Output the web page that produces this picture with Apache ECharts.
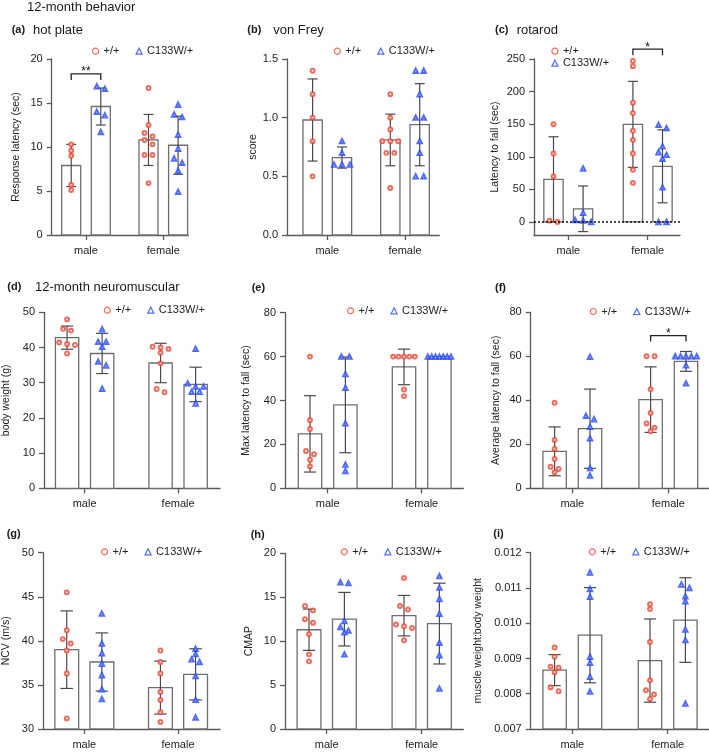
<!DOCTYPE html>
<html><head><meta charset="utf-8">
<script src="https://cdn.jsdelivr.net/npm/echarts@6/dist/echarts.min.js"></script>
<style>html,body{margin:0;padding:0;background:#fff}#c{width:709px;height:755px}</style>
</head><body><div id="c"></div>
<script>
// ---------------- DATA ----------------
const categories = ['male', 'female'];
const groupNames = ['+/+', 'C133W/+'];
// order of groups in every panel: male +/+, male C133W/+, female +/+, female C133W/+

// (a) hot plate
const hotPlatePoints = [[10.3, 9.6, 9.0, 5.7, 5.1], [16.9, 16.6, 14.0, 13.6, 11.7],
  [16.7, 12.5, 11.6, 11.2, 10.8, 10.3, 9.1, 9.1, 5.9], [14.8, 13.7, 13.4, 11.4, 9.8, 8.7, 8.2, 7.3, 4.9]];
const hotPlateMean = [7.9, 14.6, 10.8, 10.2];
const hotPlateSD = [2.4, 2.1, 2.9, 3.3];
const hotPlateTicks = [0, 5, 10, 15, 20];
const hotPlateTickLabels = ['0', '5', '10', '15', '20'];

// (b) von Frey
const vonFreyPoints = [[1.4, 1.2, 1.0, 0.8, 0.5], [0.8, 0.7, 0.6, 0.6, 0.6],
  [1.2, 1.0, 0.9, 0.8, 0.8, 0.8, 0.7, 0.7, 0.4], [1.4, 1.4, 1.2, 1.0, 1.0, 0.8, 0.7, 0.5, 0.5]];
const vonFreyMean = [0.98, 0.66, 0.81, 0.94];
const vonFreySD = [0.35, 0.09, 0.22, 0.35];
const vonFreyTicks = [0, 0.5, 1.0, 1.5];
const vonFreyTickLabels = ['0.0', '0.5', '1.0', '1.5'];

// (c) rotarod
const rotarodPoints = [[150, 105, 70, 2, 0], [82, 14, 3, 2, 0],
  [247, 239, 183, 167, 140, 126, 105, 80, 60], [149, 144, 116, 107, 103, 97, 53, 0, 0]];
const rotarodMean = [65.4, 20.2, 149.7, 85.4];
const rotarodSD = [65.3, 35, 66, 56];
const rotarodTicks = [0, 50, 100, 150, 200, 250];
const rotarodTickLabels = ['0', '50', '100', '150', '200', '250'];

// (d) body weight
const bodyWeightPoints = [[48.0, 45.3, 44.8, 41.4, 41.0, 40.7, 38.3], [45.2, 41.6, 41.6, 40.2, 36.0, 34.9, 28.3],
  [40.2, 40.0, 39.6, 38.5, 35.5, 28.2, 27.3], [39.6, 29.8, 28.9, 28.9, 27.4, 27.4, 24.1]];
const bodyWeightMean = [42.8, 38.3, 35.6, 29.5];
const bodyWeightSD = [3.3, 5.7, 5.6, 4.9];
const bodyWeightTicks = [0, 10, 20, 30, 40, 50];
const bodyWeightTickLabels = ['0', '10', '20', '30', '40', '50'];

// (e) max latency to fall
const maxLatencyPoints = [[60, 31, 27, 17, 15.5, 13, 10], [60, 60, 52, 45.8, 29.6, 10.8, 7.9],
  [60, 60, 60, 60, 60, 45, 42], [60, 60, 60, 60, 60, 60, 60]];
const maxLatencyMean = [24.8, 38.0, 55.3, 60];
const maxLatencySD = [17.4, 21.8, 8.1, 0];
const latencyTicks = [0, 20, 40, 60, 80];
const latencyTickLabels = ['0', '20', '40', '60', '80'];

// (f) average latency to fall
const avgLatencyPoints = [[38.9, 22, 17.9, 13.3, 9.8, 8.8, 7.3], [59.8, 32.9, 31.4, 28, 22.7, 9.2, 5.8],
  [60, 60, 45, 34.2, 29.5, 27.6, 25.9], [60, 60, 60, 60, 60, 55.9, 47.7]];
const avgLatencyMean = [16.8, 27.1, 40.3, 57.7];
const avgLatencySD = [11.1, 18, 14.9, 4.5];

// (g) NCV
const ncvPoints = [[45.5, 41.2, 40.2, 39.7, 38.9, 36.3, 31.2], [43.1, 39.7, 38.6, 37.4, 36.1, 34.5, 33.4],
  [38.9, 37.6, 36.3, 34.2, 33.3, 31.9, 30.8], [39.1, 38.5, 37.9, 37.6, 36.0, 33.3, 31.3]];
const ncvMean = [39.0, 37.6, 34.7, 36.2];
const ncvSD = [4.4, 3.3, 3.0, 2.9];
const ncvTicks = [30, 35, 40, 45, 50];
const ncvTickLabels = ['30', '35', '40', '45', '50'];

// (h) CMAP
const cmapPoints = [[14.0, 13.5, 12.5, 12.1, 10.8, 8.5, 7.7], [16.7, 16.6, 12.3, 11.6, 11.2, 11.0, 8.5],
  [17.2, 14.0, 13.6, 11.9, 11.7, 11.5, 10.1], [17.4, 16.1, 14.8, 13.1, 9.8, 8.4, 4.6]];
const cmapMean = [11.3, 12.5, 12.9, 12.0];
const cmapSD = [2.35, 3.05, 2.3, 4.6];
const cmapTicks = [0, 5, 10, 15, 20];
const cmapTickLabels = ['0', '5', '10', '15', '20'];

// (i) muscle weight : body weight
const muscleRatioPoints = [[0.00931, 0.00905, 0.00877, 0.00874, 0.00861, 0.00818, 0.00807],
  [0.01144, 0.01097, 0.01075, 0.00905, 0.00888, 0.00848, 0.00806],
  [0.01054, 0.01040, 0.00947, 0.00838, 0.00810, 0.00798, 0.00785],
  [0.01110, 0.01100, 0.01076, 0.01062, 0.00982, 0.00952, 0.00772]];
const muscleRatioMean = [0.00867, 0.00966, 0.00894, 0.01009];
const muscleRatioSD = [0.00044, 0.00135, 0.00118, 0.0012];
const muscleRatioTicks = [0.007, 0.008, 0.009, 0.010, 0.011, 0.012];
const muscleRatioTickLabels = ['0.007', '0.008', '0.009', '0.010', '0.011', '0.012'];

// significance brackets: [panel, category index, bracket value, label]
const sigBrackets = [['a', 0, 18.3, '**'], ['c', 1, 265, '*'], ['f', 1, 69.4, '*']];

// ---------------- LAYOUT / STYLE ----------------
const FONT = '"Liberation Sans", Arial, Helvetica, sans-serif';
const RED = '#f2452f', BLUE = '#2447ff';
const AXIS = '#5a5a5a', TXT = '#222';

const panels = [
  {id: 'a', pts: hotPlatePoints, mean: hotPlateMean, sd: hotPlateSD, ticks: hotPlateTicks, tl: hotPlateTickLabels, name: 'Response latency (sec)',
   L: 51.7, R: 188.3, T: 59, B: 235, t0: 86, t1: 163.3, off: 14.8, barW: 19, yMin: 0, yMax: 20, gap: 30, leg: [90, 47.7, 'h']},
  {id: 'b', pts: vonFreyPoints, mean: vonFreyMean, sd: vonFreySD, ticks: vonFreyTicks, tl: vonFreyTickLabels, name: 'score',
   L: 287, R: 439.3, T: 59, B: 235, t0: 327.3, t1: 405, off: 14.7, barW: 19.3, yMin: 0, yMax: 1.5, gap: 28, leg: [331.7, 47.7, 'h']},
  {id: 'c', pts: rotarodPoints, mean: rotarodMean, sd: rotarodSD, ticks: rotarodTicks, tl: rotarodTickLabels, name: 'Latency to fall (sec)',
   L: 534, R: 680, T: 59, B: 235, t0: 568.3, t1: 647.7, off: 14.8, barW: 19.3, yMin: -20, yMax: 250, gap: 33, leg: [549.3, 47.7, 'v'], zeroLine: true},
  {id: 'd', pts: bodyWeightPoints, mean: bodyWeightMean, sd: bodyWeightSD, ticks: bodyWeightTicks, tl: bodyWeightTickLabels, name: 'body weight (g)',
   L: 42.3, R: 220, T: 312.3, B: 488.3, t0: 83.3, t1: 177.7, off: 17.7, barW: 23.5, yMin: 0, yMax: 50, gap: 32, leg: [101.7, 306.7, 'h']},
  {id: 'e', pts: maxLatencyPoints, mean: maxLatencyMean, sd: maxLatencySD, ticks: latencyTicks, tl: latencyTickLabels, name: 'Max latency to fall (sec)',
   L: 285, R: 463.3, T: 312.7, B: 488.3, t0: 327.7, t1: 421.7, off: 17.7, barW: 23.4, yMin: 0, yMax: 80, gap: 33, leg: [345, 307.3, 'h']},
  {id: 'f', pts: avgLatencyPoints, mean: avgLatencyMean, sd: avgLatencySD, ticks: latencyTicks, tl: latencyTickLabels, name: 'Average latency to fall (sec)',
   L: 530.7, R: 709, T: 312.3, B: 488.3, t0: 572.3, t1: 668.3, off: 17.7, barW: 23.4, yMin: 0, yMax: 80, gap: 29, leg: [587.7, 308, 'h']},
  {id: 'g', pts: ncvPoints, mean: ncvMean, sd: ncvSD, ticks: ncvTicks, tl: ncvTickLabels, name: 'NCV (m/s)',
   L: 41.7, R: 220, T: 552.7, B: 729, t0: 83.3, t1: 177.7, off: 17.7, barW: 24, yMin: 30, yMax: 50, gap: 31, leg: [99, 548.3, 'h']},
  {id: 'h', pts: cmapPoints, mean: cmapMean, sd: cmapSD, ticks: cmapTicks, tl: cmapTickLabels, name: 'CMAP',
   L: 285, R: 463.3, T: 553.3, B: 729, t0: 326.7, t1: 421.7, off: 17.7, barW: 23.8, yMin: 0, yMax: 20, gap: 30, leg: [338.7, 548.3, 'h']},
  {id: 'i', pts: muscleRatioPoints, mean: muscleRatioMean, sd: muscleRatioSD, ticks: muscleRatioTicks, tl: muscleRatioTickLabels, name: 'muscle weight:body weight',
   L: 530.7, R: 709, T: 552.7, B: 729, t0: 572.3, t1: 667.7, off: 17.7, barW: 23.4, yMin: 0.007, yMax: 0.012, gap: 47, leg: [586.7, 548.3, 'h']}
];

const titles = [
  {x: 27, y: 7.5, text: '12-month behavior', big: true},
  {x: 11.7, y: 30, text: '(a)', bold: true}, {x: 33, y: 30, text: 'hot plate', big: true},
  {x: 247.3, y: 30, text: '(b)', bold: true}, {x: 273.3, y: 30, text: 'von Frey', big: true},
  {x: 495, y: 30, text: '(c)', bold: true}, {x: 516.7, y: 30, text: 'rotarod', big: true},
  {x: 7.3, y: 287, text: '(d)', bold: true}, {x: 35, y: 287, text: '12-month neuromuscular', big: true},
  {x: 251.7, y: 288, text: '(e)', bold: true},
  {x: 495, y: 288, text: '(f)', bold: true},
  {x: 6.7, y: 534.3, text: '(g)', bold: true},
  {x: 250.7, y: 535, text: '(h)', bold: true},
  {x: 493.3, y: 534.3, text: '(i)', bold: true}
];

// simple beeswarm: points with nearly equal pixel height are spread horizontally
function swarm(vals, pxPerY, pxPerX) {
  const idx = vals.map((v, i) => i).sort((p, q) => vals[q] - vals[p]);
  const rows = [];
  idx.forEach(i => {
    const r = rows[rows.length - 1];
    if (r && Math.abs(vals[r[0]] - vals[i]) * pxPerY < 4.5) r.push(i); else rows.push([i]);
  });
  const out = [];
  rows.forEach(r => {
    const step = Math.min(8, 27 / r.length) / pxPerX;
    r.forEach((i, k) => out.push([(k - (r.length - 1) / 2) * step, vals[i]]));
  });
  return out;
}

const grid = [], xAxis = [], yAxis = [], series = [], legend = [];
panels.forEach((p, gi) => {
  const unit = p.t1 - p.t0;
  const xMin = (p.L - p.t0) / unit, xMax = (p.R - p.t0) / unit;
  const pxPerY = (p.B - p.T) / (p.yMax - p.yMin);
  const offU = p.off / unit, bwU = p.barW / unit;
  const base = Math.max(p.yMin, 0);
  grid.push({left: p.L, top: p.T, width: p.R - p.L, height: p.B - p.T, containLabel: false});
  xAxis.push({
    type: 'value', gridIndex: gi, min: xMin, max: xMax,
    axisLine: {onZero: false, lineStyle: {color: AXIS, width: 1.3}},
    axisTick: {customValues: [0, 1], length: 5, lineStyle: {color: AXIS, width: 1.3}},
    axisLabel: {customValues: [0, 1], formatter: v => categories[Math.round(v)], margin: 10, fontSize: 11, color: TXT, fontFamily: FONT},
    splitLine: {show: false}
  });
  yAxis.push({
    type: 'value', gridIndex: gi, min: p.yMin, max: p.yMax,
    name: p.name, nameLocation: 'middle', nameGap: p.gap,
    nameTextStyle: {fontSize: 10.5, color: TXT, fontFamily: FONT},
    axisLine: {onZero: false, lineStyle: {color: AXIS, width: 1.3}},
    axisTick: {customValues: p.ticks, length: 5, lineStyle: {color: AXIS, width: 1.3}},
    axisLabel: {customValues: p.ticks, margin: 9, fontSize: 11, color: TXT, fontFamily: FONT,
      formatter: v => { const k = p.ticks.findIndex(t => Math.abs(t - v) < 1e-9 * Math.max(1, Math.abs(t)) + 1e-12); return k >= 0 ? p.tl[k] : ''; }},
    splitLine: {show: false}
  });
  // bars
  const barData = p.mean.map((m, k) => [Math.floor(k / 2) + (k % 2 ? offU : -offU), m, base]);
  series.push({
    type: 'custom', xAxisIndex: gi, yAxisIndex: gi, z: 1, silent: true,
    data: barData, encode: {x: 0, y: 1},
    renderItem: (params, api) => {
      const x = api.value(0), m = api.value(1), b = api.value(2);
      const a1 = api.coord([x - bwU / 2, m]), a2 = api.coord([x + bwU / 2, b]);
      return {type: 'rect', shape: {x: a1[0], y: a1[1], width: a2[0] - a1[0], height: a2[1] - a1[1]},
        style: {fill: '#fff', stroke: '#6e6e6e', lineWidth: 1.3}};
    }
  });
  // error bars
  const errData = p.mean.map((m, k) => [Math.floor(k / 2) + (k % 2 ? offU : -offU), m, p.sd[k]]);
  const capHalf = p.barW * 0.26;
  const errSeries = {
    type: 'custom', xAxisIndex: gi, yAxisIndex: gi, z: 2, silent: true,
    data: errData, encode: {x: 0, y: 1},
    renderItem: (params, api) => {
      const x = api.value(0), m = api.value(1), s = api.value(2);
      if (!(s > 0)) return {type: 'group', children: []};
      const t = api.coord([x, m + s]), b = api.coord([x, m - s]);
      const st = {stroke: '#4a4a4a', lineWidth: 1.2};
      return {type: 'group', children: [
        {type: 'line', shape: {x1: t[0], y1: t[1], x2: b[0], y2: b[1]}, style: st},
        {type: 'line', shape: {x1: t[0] - capHalf, y1: t[1], x2: t[0] + capHalf, y2: t[1]}, style: st},
        {type: 'line', shape: {x1: b[0] - capHalf, y1: b[1], x2: b[0] + capHalf, y2: b[1]}, style: st}
      ]};
    }
  };
  if (p.zeroLine) {
    errSeries.markLine = {silent: true, symbol: 'none', label: {show: false},
      lineStyle: {type: [2, 2], color: '#111', width: 1.5}, data: [{yAxis: 0}]};
  }
  series.push(errSeries);
  // scatter points
  [0, 1].forEach(g => {
    const data = [];
    [0, 1].forEach(c => {
      const k = c * 2 + g;
      const cx = c + (g ? offU : -offU);
      swarm(p.pts[k], pxPerY, unit).forEach(([dx, v]) => data.push([cx + dx, v]));
    });
    series.push({
      type: 'scatter', name: groupNames[g], xAxisIndex: gi, yAxisIndex: gi, z: 3, silent: true,
      symbol: g ? 'emptyTriangle' : 'emptyCircle', symbolSize: g ? 4.4 : 3.9,
      itemStyle: {color: g ? BLUE : RED, borderColor: g ? BLUE : RED, borderWidth: 1.15},
      data
    });
  });
  // significance bracket
  sigBrackets.filter(s => s[0] === p.id).forEach(s => {
    series.push({
      type: 'custom', xAxisIndex: gi, yAxisIndex: gi, z: 4, silent: true, clip: false,
      data: [[s[1] - offU, s[1] + offU, s[2]]],
      renderItem: (params, api) => {
        const a = api.coord([api.value(0), api.value(2)]), b = api.coord([api.value(1), api.value(2)]);
        return {type: 'group', children: [
          {type: 'polyline', shape: {points: [[a[0], a[1] + 6], [a[0], a[1]], [b[0], b[1]], [b[0], b[1] + 6]]},
            style: {stroke: '#222', fill: null, lineWidth: 1.3}},
          {type: 'text', style: {text: s[3], x: (a[0] + b[0]) / 2, y: a[1] - 2, align: 'center', verticalAlign: 'middle',
            font: '12px ' + FONT, fill: '#111'}}
        ]};
      }
    });
  });
  // legend
  const vertical = p.leg[2] === 'v';
  legend.push({
    left: p.leg[0] - 3, top: p.leg[1] - 7, orient: vertical ? 'vertical' : 'horizontal',
    itemWidth: 6, itemHeight: 6, itemGap: vertical ? 1 : 16, selectedMode: false,
    textStyle: {fontSize: 11, color: TXT, fontFamily: FONT},
    data: [
      {name: groupNames[0], icon: 'circle', itemStyle: {color: '#fff', borderColor: RED, borderWidth: 1.2}},
      {name: groupNames[1], icon: 'triangle', itemStyle: {color: '#fff', borderColor: BLUE, borderWidth: 1.2}}
    ]
  });
});

const graphic = titles.map(t => ({
  type: 'text', x: t.x, y: t.y, silent: true,
  style: {text: t.text, fill: '#1a1a1a', verticalAlign: 'middle',
    font: (t.bold ? 'bold 11px ' : '13px ') + FONT}
}));

const chart = echarts.init(document.getElementById('c'), null, {renderer: 'canvas'});
chart.setOption({animation: false, backgroundColor: '#fff', grid, xAxis, yAxis, series, legend, graphic});
</script>
</body></html>
